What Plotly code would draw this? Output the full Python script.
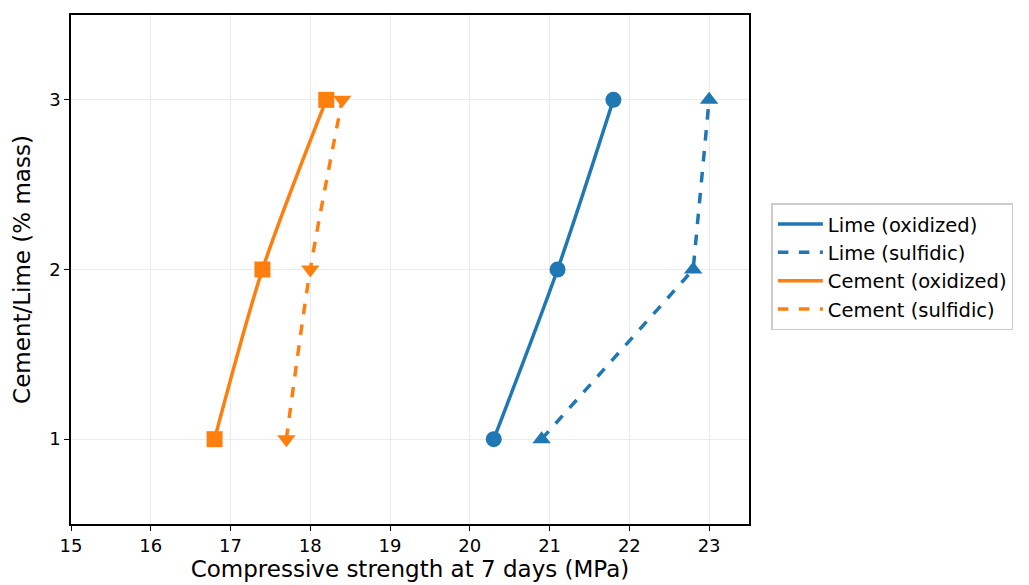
import plotly.graph_objects as go

levels = [1, 2, 3]
lime_oxidized = [20.3, 21.1, 21.8]
lime_sulfidic = [20.9, 22.8, 23.0]
cement_oxidized = [16.8, 17.4, 18.2]
cement_sulfidic = [17.7, 18.0, 18.4]
x_ticks = [15, 16, 17, 18, 19, 20, 21, 22, 23]
y_ticks = [1, 2, 3]

BLUE = "#1f77b4"
ORANGE = "#ff7f0e"

series = [
    ("Lime (oxidized)", lime_oxidized, BLUE, "solid", "circle", "spline"),
    ("Lime (sulfidic)", lime_sulfidic, BLUE, "dash", "triangle-up", "linear"),
    ("Cement (oxidized)", cement_oxidized, ORANGE, "solid", "square", "spline"),
    ("Cement (sulfidic)", cement_sulfidic, ORANGE, "dash", "triangle-down", "spline"),
]

fig = go.Figure()
for name, xs, color, dash, sym, shape in series:
    line = dict(color=color, width=3.5, dash=dash, shape=shape)
    if shape == "spline":
        line["smoothing"] = 0.8
    fig.add_trace(go.Scatter(
        x=xs, y=levels, name=name, mode="lines+markers", showlegend=False,
        line=line,
        marker=dict(symbol=sym, size=16, color=color),
    ))
for name, xs, color, dash, sym, shape in series:
    fig.add_trace(go.Scatter(
        x=[None], y=[None], name=name, mode="lines",
        line=dict(color=color, width=3.5, dash=dash),
    ))

font = "DejaVu Sans"
fig.update_layout(
    width=1029, height=585,
    margin=dict(l=63, r=288, t=7, b=69, autoexpand=False),
    paper_bgcolor="white", plot_bgcolor="white",
    font=dict(family=font, size=18, color="black"),
    legend=dict(
        x=1.033, y=0.63, xanchor="left", yanchor="top",
        bordercolor="#cccccc", borderwidth=1.5, bgcolor="white",
        font=dict(size=19.5), itemwidth=45, tracegroupgap=0,
    ),
    showlegend=True,
)
fig.update_xaxes(
    range=[15, 23.5], tickvals=x_ticks, ticks="outside", ticklen=5, tickwidth=1.2,
    tickcolor="black", showline=True, linecolor="black", linewidth=1.5, mirror=True,
    showgrid=True, gridcolor="#ebebeb", zeroline=False, automargin=False,
    tickfont=dict(size=18),
    title=dict(text="Compressive strength at 7 days (MPa)", font=dict(size=23), standoff=4),
)
fig.update_yaxes(
    range=[0.5, 3.5], tickvals=y_ticks, ticks="outside", ticklen=5, tickwidth=1.2,
    tickcolor="black", showline=True, linecolor="black", linewidth=1.5, mirror=True,
    showgrid=True, gridcolor="#ebebeb", zeroline=False, automargin=False,
    tickfont=dict(size=18),
    title=dict(text="Cement/Lime (% mass)", font=dict(size=23), standoff=12),
)
fig.write_html("out.html")
